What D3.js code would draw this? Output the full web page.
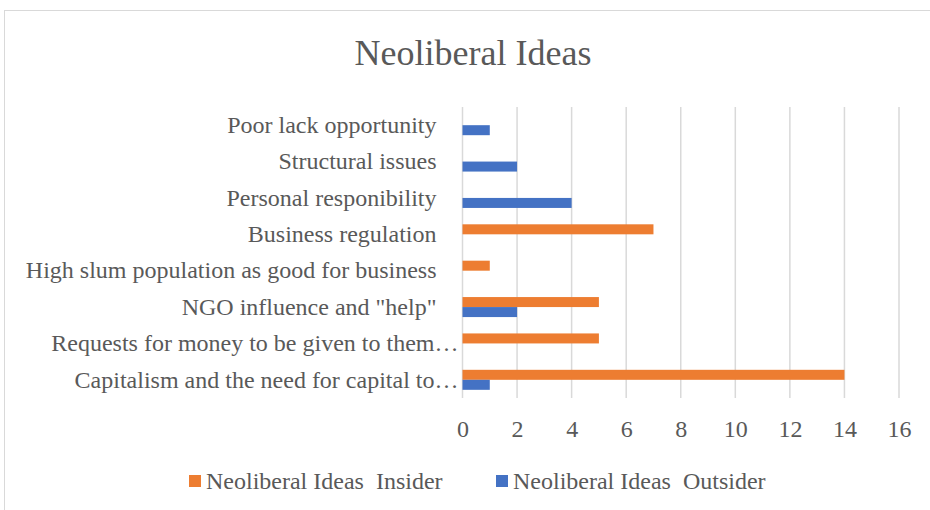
<!DOCTYPE html>
<html>
<head>
<meta charset="utf-8">
<script src="https://cdn.jsdelivr.net/npm/d3@7"></script>
<style>
  html, body { margin: 0; padding: 0; background: #fff; }
  svg { display: block; }
  text { font-family: "Liberation Serif", "Times New Roman", serif; fill: #595959; white-space: pre; }
</style>
</head>
<body>
<svg id="chart" width="930" height="510"></svg>
<script>
// Categories listed top to bottom
const categories = [
  "Poor lack opportunity",
  "Structural issues",
  "Personal responibility",
  "Business regulation",
  "High slum population as good for business",
  "NGO influence and \"help\"",
  "Requests for money to be given to them…",
  "Capitalism and the need for capital to…"
];
const insider  = [0, 0, 0, 7, 1, 5, 5, 14];
const outsider = [1, 2, 4, 0, 0, 2, 0, 1];
const seriesNames = ["Neoliberal Ideas  Insider", "Neoliberal Ideas  Outsider"];
const seriesColors = ["#ED7D31", "#4472C4"];
const xTicks = [0, 2, 4, 6, 8, 10, 12, 14, 16];

const svg = d3.select("#chart");

// chart frame
svg.append("rect")
  .attr("x", 4.5).attr("y", 10.5)
  .attr("width", 940).attr("height", 520)
  .attr("fill", "#fff").attr("stroke", "#D9D9D9").attr("stroke-width", 1);

// title
svg.append("text")
  .attr("x", 473).attr("y", 65)
  .attr("text-anchor", "middle")
  .attr("font-size", 36)
  .text("Neoliberal Ideas");

const plot = { left: 462.5, right: 899, top: 107, bottom: 398 };

const x = d3.scaleLinear().domain([0, 16]).range([plot.left, plot.right]);
const y = d3.scaleBand().domain(categories)
  .range([plot.top, plot.bottom])
  .paddingInner(0.45).paddingOuter(0.225);
const ySub = d3.scaleBand().domain(seriesNames).range([0, y.bandwidth()]);

// vertical gridlines
svg.append("g").selectAll("line")
  .data(xTicks).join("line")
  .attr("x1", d => x(d)).attr("x2", d => x(d))
  .attr("y1", plot.top).attr("y2", plot.bottom)
  .attr("stroke", "#D9D9D9").attr("stroke-width", 1.5);

// x axis labels
const xAxis = d3.axisBottom(x).tickValues(xTicks).tickSize(0).tickPadding(0);
const gx = svg.append("g").attr("transform", `translate(0,${plot.bottom + 22})`).call(xAxis);
gx.select(".domain").remove();
gx.selectAll("text")
  .attr("font-size", 24)
  .attr("fill", "#595959")
  .attr("font-family", "Liberation Serif, Times New Roman, serif");

// category labels
const yAxis = d3.axisLeft(y).tickSize(0).tickPadding(0);
const gy = svg.append("g").attr("transform", `translate(${plot.left - 26},0)`).call(yAxis);
gy.select(".domain").remove();
gy.selectAll("text")
  .attr("font-size", 24)
  .attr("fill", "#595959")
  .attr("font-family", "Liberation Serif, Times New Roman, serif")
  .attr("dx", d => d.endsWith("…") ? 22 : 0);

// bars
const rows = categories.map((c, i) => ({ c, vals: [insider[i], outsider[i]] }));
const groups = svg.append("g").selectAll("g")
  .data(rows).join("g")
  .attr("transform", d => `translate(0,${y(d.c)})`);
groups.selectAll("rect")
  .data(d => d.vals.map((v, k) => ({ v, k })).filter(e => e.v > 0))
  .join("rect")
  .attr("x", x(0))
  .attr("y", e => ySub(seriesNames[e.k]))
  .attr("width", e => x(e.v) - x(0))
  .attr("height", ySub.bandwidth())
  .attr("fill", e => seriesColors[e.k]);

// legend
const legendItems = [
  { name: seriesNames[0], color: seriesColors[0], x: 189 },
  { name: seriesNames[1], color: seriesColors[1], x: 496 }
];
const lg = svg.append("g").selectAll("g")
  .data(legendItems).join("g")
  .attr("transform", d => `translate(${d.x},475)`);
lg.append("rect").attr("width", 12).attr("height", 12).attr("fill", d => d.color);
lg.append("text")
  .attr("x", 17).attr("y", 14)
  .attr("font-size", 24)
  .text(d => d.name);
</script>
</body>
</html>
